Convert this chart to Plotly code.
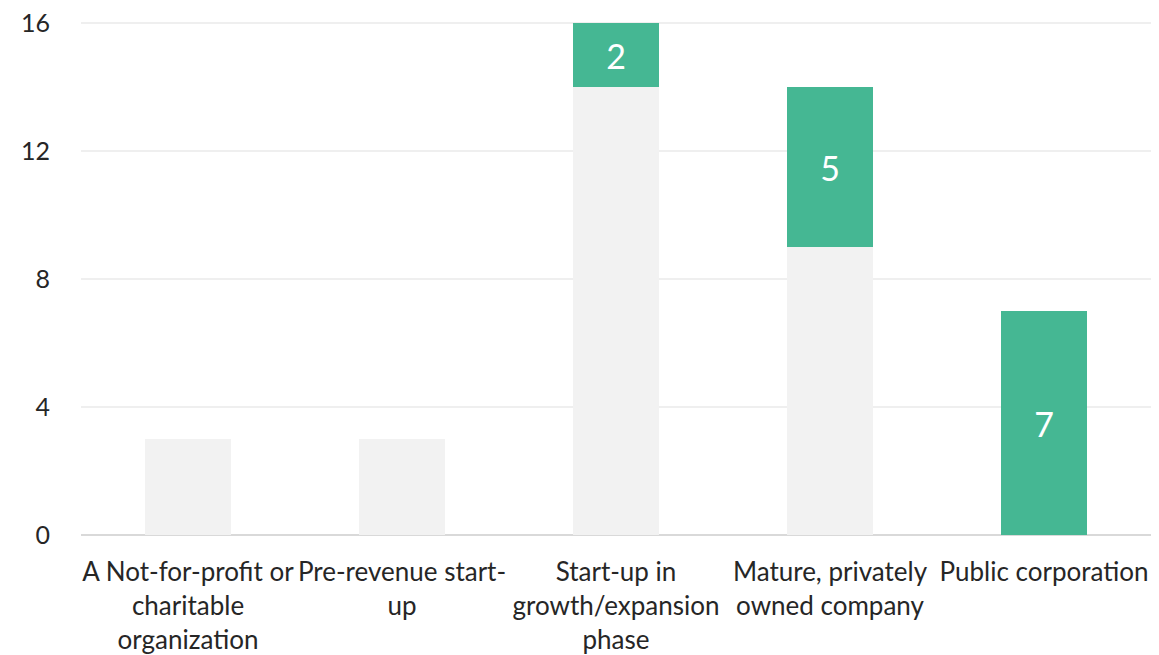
import plotly.graph_objects as go

categories = [
    "A Not-for-profit or<br>charitable<br>organization",
    "Pre-revenue start-<br>up",
    "Start-up in<br>growth/expansion<br>phase",
    "Mature, privately<br>owned company",
    "Public corporation",
]
base_values = [3, 3, 14, 9, 0]
green_values = [0, 0, 2, 5, 7]
y_ticks = [0, 4, 8, 12, 16]

FONT = "Lato"

fig = go.Figure()
fig.add_trace(go.Bar(
    x=categories, y=base_values, marker=dict(color="#f2f2f2", line=dict(width=0)),
    hoverinfo="skip", showlegend=False,
))
fig.add_trace(go.Bar(
    x=categories, y=green_values, marker=dict(color="#45b793", line=dict(width=0)),
    text=[str(v) if v else "" for v in green_values], textposition="inside",
    insidetextanchor="middle", textfont=dict(color="white", size=34, family=FONT),
    showlegend=False,
))
fig.update_layout(
    barmode="stack", bargap=0.6,
    width=1159, height=655,
    margin=dict(l=81, r=8, t=20, b=120, autoexpand=False),
    plot_bgcolor="white", paper_bgcolor="white",
    font=dict(family=FONT, size=26, color="#262626"),
    uniformtext=dict(minsize=8, mode="show"),
)
fig.update_xaxes(
    showgrid=False, showline=False, ticks="", tickfont=dict(size=26, color="#262626"),
    tickangle=0, ticklabelstandoff=19, automargin=False,
)
fig.update_yaxes(
    range=[0, 16.1], tickvals=y_ticks, showgrid=True, gridcolor="#efefef", gridwidth=2,
    zeroline=True, zerolinecolor="#d9d9d9", zerolinewidth=2, showline=False,
    tickfont=dict(size=25, color="#262626"), ticklabelstandoff=30, automargin=False,
)
fig.write_html(
    "out.html",
    config={"displayModeBar": False},
    post_script="document.body.style.margin='0';document.body.style.overflow='hidden';",
)
